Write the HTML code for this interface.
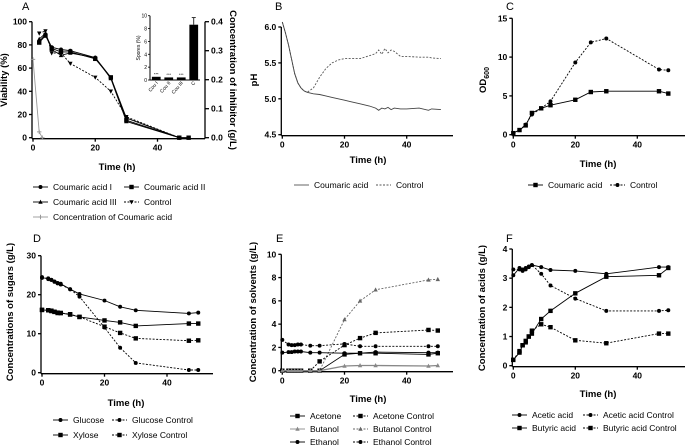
<!DOCTYPE html>
<html><head><meta charset="utf-8"><style>
body{margin:0;background:#fff}
svg{display:block;font-family:"Liberation Sans",Arial,sans-serif}
</style></head><body>
<svg id="fig" width="685" height="447" viewBox="0 0 685 447"></svg>
<script>
// ===== Data =====
const tA = [2,4,6,9,12,20,25,30,47,50];
const couI = [83,89,78,76,75,69,52,17,0,0];
const couII = [82,88,77,74,74,68,52,15,0,0];
const couIII = [85,90,76,71,73,69,51,14,0,0];
const ctrlA = [90,92,73,73,64,52,40,18,0,0];
const tConc = [0,2,3];
const concCou = [0.27,0.02,0];
const insetCats = ["Cou I","Cou II","Cou III","C"];
const insetVals = [0.5,0.4,0.4,8.6];

const tB = [0,1,2,3,4,5,6,7,8,10,12,14,16,18,20,22,25,28,30,31,32,33,34,35,36,38,40,44,47,48,51];
const phCou = [6.07,5.92,5.75,5.55,5.35,5.22,5.15,5.11,5.09,5.07,5.06,5.04,5.02,5.0,4.98,4.96,4.93,4.9,4.87,4.84,4.87,4.86,4.88,4.85,4.87,4.86,4.86,4.87,4.84,4.86,4.85];
const phCtrl = [6.07,5.92,5.75,5.55,5.35,5.22,5.15,5.11,5.09,5.15,5.3,5.42,5.5,5.54,5.56,5.56,5.56,5.6,5.63,5.68,5.62,5.7,5.64,5.68,5.66,5.59,5.59,5.58,5.58,5.57,5.56];

const tC = [0,2,4,6,9,12,20,25,30,47,50];
const odCou = [0.2,0.6,1.2,2.8,3.4,3.8,4.5,5.5,5.6,5.6,5.3];
const odCtrl = [0.2,0.6,1.3,2.6,3.4,4.3,9.3,11.9,12.4,8.4,8.3];

const tD = [0,2,3,4,5,6,9,12,20,25,30,47,50];
const glc = [24.3,24.2,23.8,23.4,23.0,22.8,21.4,20.2,18.5,16.9,16.0,15.2,15.4];
const glcCtrl = [24.5,24.0,23.8,23.3,22.9,22.6,21.4,19.5,11.6,6.4,2.5,0.7,0.7];
const xyl = [16.1,16.0,15.9,15.6,15.4,15.3,14.9,14.3,13.4,12.9,12.0,12.6,12.6];
const xylCtrl = [16.1,16.0,15.8,15.6,15.3,15.3,15.0,14.3,11.8,10.2,8.8,8.2,8.3];

const tE = [0,2,3,4,5,6,9,12,20,25,30,47,50];
const acetone = [0,0,0,0,0,0,0,0,1.4,1.5,1.5,1.4,1.5];
const acetoneCtrl = [0,0,0,0,0,0,0,0.8,2.2,2.8,3.25,3.5,3.45];
const butanol = [0,0,0,0,0,0,0,0,0.4,0.45,0.45,0.4,0.45];
const butanolCtrl = [0,0,0,0,0,0,0,0,4.4,6.0,6.95,7.8,7.85];
const ethanol = [1.55,1.6,1.6,1.65,1.65,1.65,1.55,1.55,1.5,1.5,1.6,1.55,1.55];
const ethanolCtrl = [2.65,2.25,2.2,2.2,2.25,2.25,2.15,2.15,2.3,2.1,2.1,2.1,2.1];

const tF = [0,2,3,4,5,6,9,12,20,30,47,50];
const acetic = [3.1,3.35,3.25,3.35,3.4,3.45,3.38,3.28,3.25,3.15,3.38,3.38];
const aceticCtrl = [3.3,3.3,3.3,3.3,3.38,3.45,3.15,2.75,2.3,1.88,1.88,1.9];
const butyric = [0.2,0.45,0.7,0.8,1.0,1.1,1.6,1.88,2.48,3.05,3.1,3.35];
const butyricCtrl = [0.2,0.5,0.7,0.85,1.0,1.2,1.42,1.32,0.87,0.77,1.1,1.1];

// ===== Helpers =====
const NS = "http://www.w3.org/2000/svg";
const svg = document.getElementById("fig");
function mk(tag, attrs, parent, txt){
  const e = document.createElementNS(NS, tag);
  for (const k in attrs) e.setAttribute(k, attrs[k]);
  if (txt !== undefined) e.textContent = txt;
  (parent||svg).appendChild(e);
  return e;
}
function scale(d0,d1,p0,p1){ return v => p0 + (v-d0)*(p1-p0)/(d1-d0); }

function panel(name, cfg){
  const g = mk("g", {});
  
  
  const X = scale(0,40,cfg.x0,cfg.x40), Y = scale(cfg.ymin,cfg.ymax,cfg.yb,cfg.yt);
  const ax = mk("g",{stroke:"#000","stroke-width":1.3,fill:"none"},g);
  
  
  mk("line",{x1:X(0)-1,y1:cfg.yt,x2:X(0)-1,y2:cfg.yb+1},ax);
  mk("line",{x1:X(0)-1,y1:cfg.yb+1,x2:cfg.xend,y2:cfg.yb+1},ax);
  [0,20,40].forEach(t=>{
    mk("line",{x1:X(t),y1:cfg.yb+1,x2:X(t),y2:cfg.yb+4},ax);
    const tl = mk("text",{x:X(t),y:cfg.yb+13,"text-anchor":"middle","font-size":8.5,"font-weight":"bold"},g,String(t));
    
    
  });
  cfg.yticks.forEach((v,i)=>{
    mk("line",{x1:X(0)-1,y1:Y(v),x2:X(0)-4,y2:Y(v)},ax);
    const tl = mk("text",{x:X(0)-6,y:Y(v)+3,"text-anchor":"end","font-size":8.5,"font-weight":"bold"},g,cfg.ylabels[i]);
    
    
  });
  const xt = mk("text",{x:cfg.xtx,y:cfg.xty,"text-anchor":"middle","font-size":9.5,"font-weight":"bold"},g,"Time (h)");
  
  
  const yt = mk("text",{x:0,y:0,"text-anchor":"middle","font-size":9.5,"font-weight":"bold",transform:`translate(${cfg.ytx},${cfg.yty}) rotate(-90)`},g);
  
  
  if (cfg.ysub){ yt.textContent = cfg.ytitle; mk("tspan",{"font-size":7,dy:3},yt,cfg.ysub); }
  else yt.textContent = cfg.ytitle;
  const pl = mk("text",{x:cfg.lx,y:cfg.ly,"font-size":11},g,cfg.letter);
  
  
  return {g,X,Y};
}
function marker(g,type,x,y,col,s){
  s = s||2.2;
  if(type==="circle") mk("circle",{cx:x,cy:y,r:s*0.9,fill:col},g);
  else if(type==="square") mk("rect",{x:x-s,y:y-s,width:2*s,height:2*s,fill:col},g);
  else if(type==="tri") mk("path",{d:`M${x},${y-s*1.1}L${x+s},${y+s*0.8}L${x-s},${y+s*0.8}Z`,fill:col},g);
  else if(type==="itri") mk("path",{d:`M${x},${y+s*1.1}L${x+s},${y-s*0.8}L${x-s},${y-s*0.8}Z`,fill:col},g);
  else if(type==="plus"){ mk("path",{d:`M${x-s},${y}H${x+s}M${x},${y-s}V${y+s}`,stroke:col,"stroke-width":1},g); }
}
function series(P,name,xs,ys,type,dashed,col,width){
  const g = mk("g",{},P.g);
  
  
  const d = xs.map((t,i)=>(i?"L":"M")+P.X(t).toFixed(1)+","+P.Y(ys[i]).toFixed(1)).join("");
  mk("path",{d,fill:"none",stroke:col,"stroke-width":width||0.9,"stroke-dasharray":dashed?"2,1.5":"none"},g);
  if(type) xs.forEach((t,i)=>marker(g,type,P.X(t),P.Y(ys[i]),col));
}
function legend(name,x,y,type,dashed,label,col){
  const g = mk("g",{},svg);
  
  
  col = col||"#000";
  mk("line",{x1:x,y1:y,x2:x+15,y2:y,stroke:col,"stroke-width":0.9,"stroke-dasharray":dashed?"2,1.5":"none"},g);
  if(type) marker(g,type,x+7.5,y,col);
  mk("text",{x:x+20,y:y+3,"font-size":8.5},g,label);
}

// ===== Panel A =====
const A = panel("panel-a",{x0:33,x40:157.5,xend:205,yb:137.7,yt:21.7,ymin:0,ymax:100,
  yticks:[0,20,40,60,80,100],ylabels:["0","20","40","60","80","100"],
  xtx:117,xty:170,ytitle:"Viability (%)",ytx:7,yty:80,letter:"A",lx:22,ly:10});
(function(){
  const ax = mk("g",{stroke:"#000","stroke-width":1.3},A.g);
  
  
  mk("line",{x1:205,y1:21.7,x2:205,y2:138.7},ax);
  const R = scale(0,0.4,137.7,21.7);
  [0,0.1,0.2,0.3,0.4].forEach(v=>{
    mk("line",{x1:205,y1:R(v),x2:209,y2:R(v)},ax);
    const tl = mk("text",{x:211,y:R(v)+3,"font-size":8.5,"font-weight":"bold",stroke:"none"},A.g,v.toFixed(1));
    
    
  });
  const rt = mk("text",{x:0,y:0,"text-anchor":"middle","font-size":9.5,"font-weight":"bold",transform:"translate(230,80) rotate(90)"},A.g,"Concentration of inhibitor (g/L)");
  
  
  const P2 = {g:A.g,X:A.X,Y:R};
  series(P2,"series-concentration",tConc,concCou,"plus",false,"#999");
})();
series(A,"series-coumaric-i",tA,couI,"circle",false,"#000");
series(A,"series-coumaric-ii",tA,couII,"square",false,"#000");
series(A,"series-coumaric-iii",tA.slice(0,9),couIII.slice(0,9),"tri",false,"#000");
series(A,"series-control-a",tA.slice(0,9),ctrlA.slice(0,9),"itri",true,"#000");
(function(){
  const g = mk("g",{},A.g);
  
  
  const x0=150, x1=200, Yi=scale(0,10,80,15.7);
  mk("path",{d:`M${x0},15.7V80H${x1}`,stroke:"#000","stroke-width":1,fill:"none"},g);
  [0,2,4,6,8,10].forEach(v=>{
    mk("line",{x1:x0,y1:Yi(v),x2:x0-2,y2:Yi(v),stroke:"#000","stroke-width":0.8},g);
    mk("text",{x:x0-3,y:Yi(v)+2,"font-size":5,"text-anchor":"end"},g,String(v));
  });
  mk("text",{x:0,y:0,"font-size":5,"text-anchor":"middle",transform:`translate(${x0-10},48) rotate(-90)`},g,"Spores (%)");
  const bw=(x1-x0)/insetCats.length;
  insetCats.forEach((c,i)=>{
    const cx = x0+bw*(i+0.5);
    const b = mk("rect",{x:cx-bw*0.35,y:Yi(insetVals[i]),width:bw*0.7,height:Yi(0)-Yi(insetVals[i]),fill:"#000"},g);
    
    
    mk("text",{x:0,y:0,"font-size":5,"text-anchor":"end",transform:`translate(${cx+2},83) rotate(-50)`},g,c);
    if(i<3) mk("text",{x:cx,y:Yi(insetVals[i])-1.5,"font-size":4,"text-anchor":"middle"},g,"***");
  });
  mk("line",{x1:x0+bw*3.5,y1:Yi(9.7),x2:x0+bw*3.5,y2:Yi(8.6),stroke:"#000","stroke-width":0.8},g);
  mk("line",{x1:x0+bw*3.5-2,y1:Yi(9.7),x2:x0+bw*3.5+2,y2:Yi(9.7),stroke:"#000","stroke-width":0.8},g);
})();
legend("legend-coumaric-i",33,187,"circle",false,"Coumaric acid I");
legend("legend-coumaric-ii",124,187,"square",false,"Coumaric acid II");
legend("legend-coumaric-iii",33,202,"tri",false,"Coumaric acid III");
legend("legend-control-a",124,202,"itri",true,"Control");
legend("legend-concentration",33,217,"plus",false,"Concentration of Coumaric acid","#999");

// ===== Panel B =====
const B = panel("panel-b",{x0:282.3,x40:406.7,xend:453,yb:134.7,yt:27,ymin:4.5,ymax:6.0,
  yticks:[4.5,5.0,5.5,6.0],ylabels:["4.5","5.0","5.5","6.0"],
  xtx:368,xty:163,ytitle:"pH",ytx:257,yty:80,letter:"B",lx:275,ly:10});
series(B,"series-ph-control",tB,phCtrl,null,true,"#555",0.9);
series(B,"series-ph-coumaric",tB,phCou,null,false,"#444",0.9);
legend("legend-ph-coumaric",294,185,null,false,"Coumaric acid","#555");
legend("legend-ph-control",376,185,null,true,"Control","#555");

// ===== Panel C =====
const C = panel("panel-c",{x0:513.3,x40:637.3,xend:685,yb:134.7,yt:18.3,ymin:0,ymax:15,
  yticks:[0,5,10,15],ylabels:["0","5","10","15"],
  xtx:598,xty:167,ytitle:"OD",ysub:"600",ytx:486,yty:80,letter:"C",lx:506,ly:10});
series(C,"series-od-control",tC,odCtrl,"circle",true,"#000");
series(C,"series-od-coumaric",tC,odCou,"square",false,"#000");
legend("legend-od-coumaric",528,185,"square",false,"Coumaric acid");
legend("legend-od-control",610,185,"circle",true,"Control");

// ===== Panel D =====
const D = panel("panel-d",{x0:42,x40:167,xend:213,yb:372.7,yt:255.7,ymin:0,ymax:30,
  yticks:[0,10,20,30],ylabels:["0","10","20","30"],
  xtx:126,xty:406,ytitle:"Concentrations of sugars (g/L)",ytx:13,yty:312,letter:"D",lx:33,ly:242});
series(D,"series-glucose-control",tD,glcCtrl,"circle",true,"#000");
series(D,"series-xylose-control",tD,xylCtrl,"square",true,"#000");
series(D,"series-glucose",tD,glc,"circle",false,"#000");
series(D,"series-xylose",tD,xyl,"square",false,"#000");
legend("legend-glucose",53,420,"circle",false,"Glucose");
legend("legend-glucose-control",112,420,"circle",true,"Glucose Control");
legend("legend-xylose",53,435,"square",false,"Xylose");
legend("legend-xylose-control",112,435,"square",true,"Xylose Control");

// ===== Panel E =====
const E = panel("panel-e",{x0:282.3,x40:406.7,xend:453,yb:370.7,yt:254.3,ymin:0,ymax:10,
  yticks:[0,2,4,6,8,10],ylabels:["0","2","4","6","8","10"],
  xtx:368,xty:402,ytitle:"Concentration of solvents (g/L)",ytx:256,yty:312,letter:"E",lx:276,ly:242});
series(E,"series-butanol-control",tE,butanolCtrl,"tri",true,"#666");
series(E,"series-acetone-control",tE,acetoneCtrl,"square",true,"#000");
series(E,"series-ethanol-control",tE,ethanolCtrl,"circle",true,"#000");
series(E,"series-acetone",tE,acetone,"square",false,"#000");
series(E,"series-butanol",tE,butanol,"tri",false,"#888",1.3);
series(E,"series-ethanol",tE,ethanol,"circle",false,"#000");
legend("legend-acetone",290,416,"square",false,"Acetone");
legend("legend-acetone-control",353,416,"square",true,"Acetone Control");
legend("legend-butanol",290,429,"tri",false,"Butanol","#888");
legend("legend-butanol-control",353,429,"tri",true,"Butanol Control","#666");
legend("legend-ethanol",290,442,"circle",false,"Ethanol");
legend("legend-ethanol-control",353,442,"circle",true,"Ethanol Control");

// ===== Panel F =====
const F = panel("panel-f",{x0:513.3,x40:637.3,xend:685,yb:365.7,yt:249,ymin:0,ymax:4,
  yticks:[0,1,2,3,4],ylabels:["0","1","2","3","4"],
  xtx:598,xty:397,ytitle:"Concentration of acids (g/L)",ytx:485,yty:308,letter:"F",lx:506,ly:242});
series(F,"series-acetic-control",tF,aceticCtrl,"circle",true,"#000");
series(F,"series-butyric-control",tF,butyricCtrl,"square",true,"#000");
series(F,"series-acetic",tF,acetic,"circle",false,"#000");
series(F,"series-butyric",tF,butyric,"square",false,"#000");
legend("legend-acetic",512,415,"circle",false,"Acetic acid");
legend("legend-acetic-control",583,415,"circle",true,"Acetic acid Control");
legend("legend-butyric",512,428,"square",false,"Butyric acid");
legend("legend-butyric-control",583,428,"square",true,"Butyric acid Control");
</script>
</body></html>
